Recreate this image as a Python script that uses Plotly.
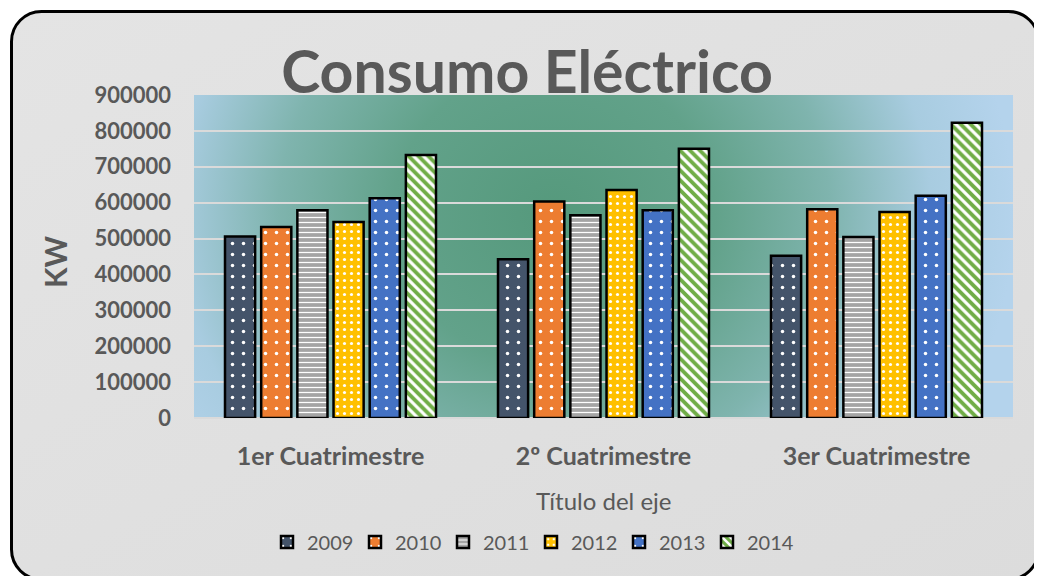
import base64
import plotly.graph_objects as go

# ---- data ----
categories = ["1er Cuatrimestre", "2º Cuatrimestre", "3er Cuatrimestre"]
years = ["2009", "2010", "2011", "2012", "2013", "2014"]
v2009 = [506000, 442000, 452000]
v2010 = [532000, 603000, 582000]
v2011 = [579000, 565000, 504000]
v2012 = [546000, 635000, 574000]
v2013 = [612000, 579000, 619000]
v2014 = [733000, 750000, 823000]
y_ticks = [0, 100000, 200000, 300000, 400000, 500000, 600000, 700000, 800000, 900000]

series = [v2009, v2010, v2011, v2012, v2013, v2014]
colors = ["#44546a", "#ed7d31", "#a5a5a5", "#ffc000", "#4472c4", "#70ad47"]
patterns = [
    dict(shape=".", size=11, solidity=0.08),
    dict(shape=".", size=11, solidity=0.08),
    dict(shape="-", size=5, solidity=0.25),
    dict(shape=".", size=7, solidity=0.16),
    dict(shape=".", size=11, solidity=0.08),
    dict(shape="\\", size=7, solidity=0.45),
]

# page body has an 8px margin: build in coordinates shifted by it
OFF = 8
W, H = 1042 - OFF, 576 - OFF
L, R, T, B = 194 - OFF, 1013 - OFF, 95 - OFF, 418 - OFF
PW, PH = R - L, B - T

frame_svg = f'''<svg xmlns="http://www.w3.org/2000/svg" width="{W}" height="{H}" viewBox="0 0 {W} {H}">
<defs><linearGradient id="f" x1="0" y1="0" x2="1" y2="1">
<stop offset="0" stop-color="#e4e4e4"/><stop offset="1" stop-color="#dcdcdc"/></linearGradient></defs>
<rect x="{11.5 - OFF}" y="{11.5 - OFF}" width="1027" height="568" rx="30" ry="30" fill="url(#f)" stroke="#000" stroke-width="3"/>
</svg>'''

grad_svg = f'''<svg xmlns="http://www.w3.org/2000/svg" width="{PW}" height="{PH}" viewBox="0 0 {PW} {PH}" preserveAspectRatio="none">
<defs><radialGradient id="g" gradientUnits="userSpaceOnUse" cx="0" cy="0" r="1"
 gradientTransform="translate(360,120) scale(460,430)">
<stop offset="0" stop-color="#55997c"/>
<stop offset="0.35" stop-color="#62a28a"/>
<stop offset="0.6" stop-color="#7fb4ae"/>
<stop offset="0.82" stop-color="#a8cce0"/>
<stop offset="1" stop-color="#b4d3ec"/>
</radialGradient></defs>
<rect x="0" y="0" width="{PW}" height="{PH}" fill="url(#g)"/>
</svg>'''


def uri(s):
    return "data:image/svg+xml;base64," + base64.b64encode(s.encode()).decode()


fig = go.Figure()
for name, vals, col, pat in zip(years, series, colors, patterns):
    fig.add_trace(go.Bar(
        name=name, x=categories, y=vals,
        marker=dict(color=col, line=dict(color="#000000", width=2.5),
                    pattern=dict(fgcolor="#ffffff", bgcolor=col, fillmode="replace", **pat)),
    ))

TXT = "#595959"
fig.update_layout(
    width=W, height=H,
    margin=dict(l=L, r=W - R, t=T, b=H - B),
    paper_bgcolor="#ffffff",
    plot_bgcolor="rgba(0,0,0,0)",
    barmode="group", bargap=0.205, bargroupgap=0.167,
    font=dict(family="Lato", color=TXT),
    title=dict(text="<b>Consumo Eléctrico</b>", x=(527 - OFF) / W, xanchor="center",
               y=1 - (72 - OFF) / H, yanchor="middle", yref="container",
               font=dict(size=59, color=TXT, family="Lato")),
    xaxis=dict(showgrid=False, zeroline=False, showline=False,
               tickfont=dict(size=25, color=TXT, family="Lato", weight="bold"),
               ticklabelstandoff=21),
    yaxis=dict(range=[0, 900000], tickvals=y_ticks, ticktext=[str(v) for v in y_ticks],
               showgrid=True, gridcolor="#dadada", gridwidth=2,
               zeroline=True, zerolinecolor="#dadada", zerolinewidth=2, showline=False,
               tickfont=dict(size=22, color=TXT, family="Lato", weight="bold"),
               ticklabelstandoff=22),
    legend=dict(orientation="h", x=(531 - 194) / PW, xanchor="center",
                y=(418 - 542) / PH, yanchor="middle", yref="paper",
                entrywidth=43, entrywidthmode="pixels",
                font=dict(size=20, color=TXT, family="Lato"),
                bgcolor="rgba(0,0,0,0)", itemclick=False),
    annotations=[
        dict(text="Título del eje", x=0.5, xref="paper", y=(418 - 500) / PH, yref="paper",
             showarrow=False, font=dict(size=24, color=TXT, family="Lato"),
             xanchor="center", yanchor="middle"),
        dict(text="<b>KW</b>", x=(55 - 194) / PW, xref="paper", y=(418 - 262) / PH, yref="paper",
             showarrow=False, textangle=-90, font=dict(size=30, color=TXT, family="Lato"),
             xanchor="center", yanchor="middle"),
    ],
    images=[
        dict(source=uri(frame_svg), xref="paper", yref="paper",
             x=-L / PW, y=B / PH, sizex=W / PW, sizey=H / PH,
             xanchor="left", yanchor="top", sizing="stretch", layer="below"),
        dict(source=uri(grad_svg), xref="x domain", yref="y domain",
             x=0, y=1, sizex=1, sizey=1,
             xanchor="left", yanchor="top", sizing="stretch", layer="below"),
    ],
)

fig.write_html("out.html")
